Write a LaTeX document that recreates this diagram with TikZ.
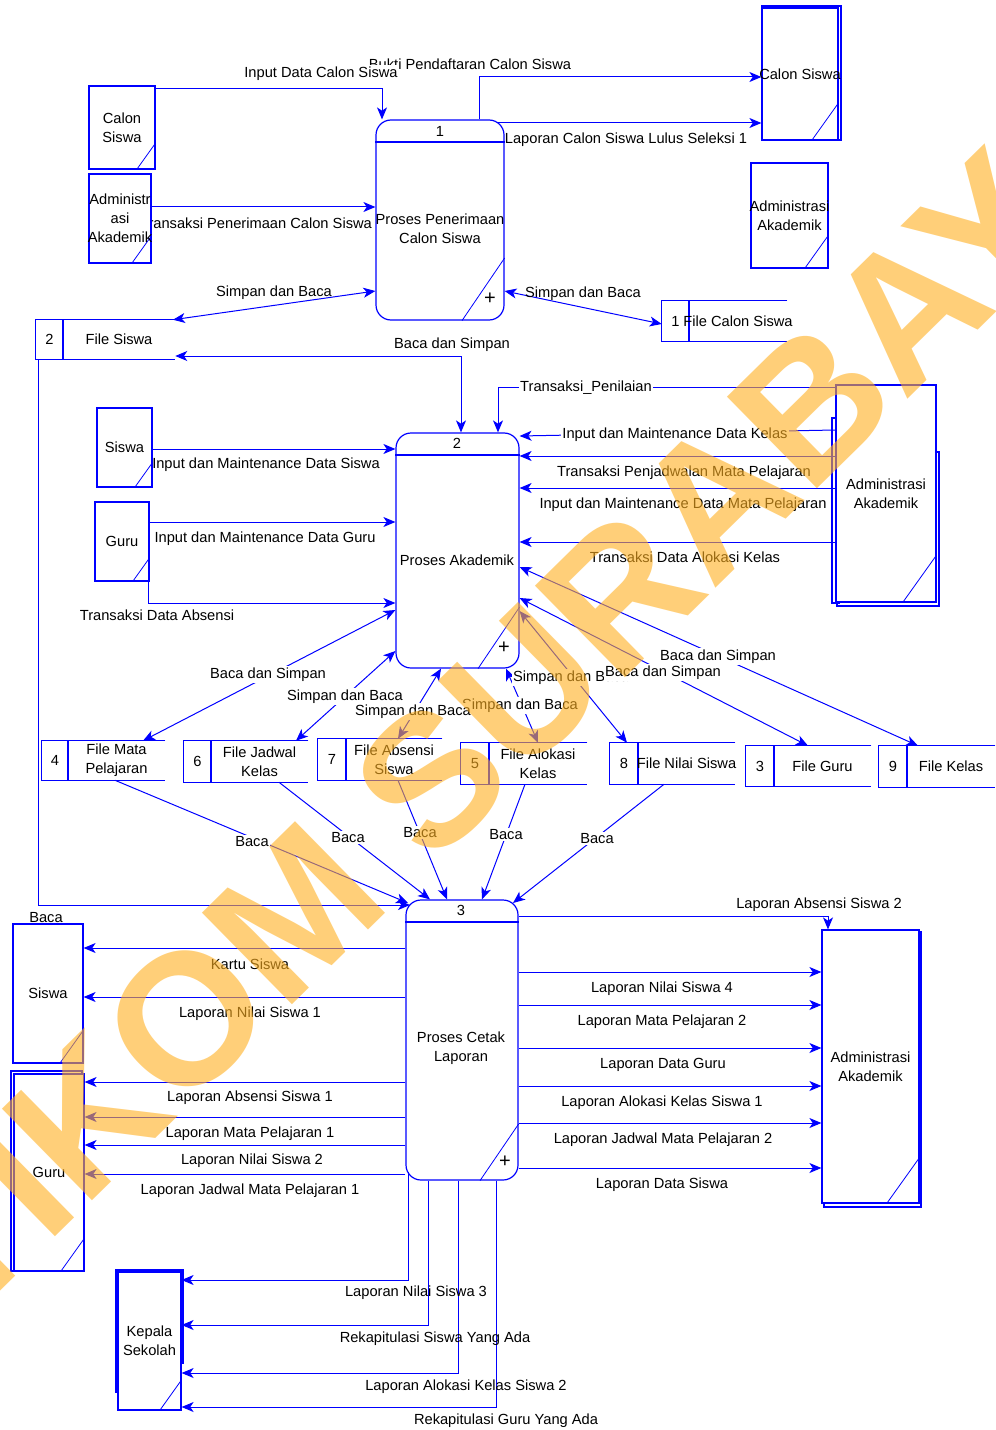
\documentclass[tikz,border=0pt]{standalone}
\usepackage{fontspec}
\setmainfont{Liberation Sans}
\usetikzlibrary{arrows.meta,fit,calc}
\definecolor{wm}{RGB}{255,176,32}
\tikzset{
  box/.style={draw=blue, line width=0.9pt},
  ent/.style={box, fill=white, inner sep=0pt},
  thinb/.style={draw=blue, line width=0.6pt},
  proc/.style={box, fill=white, rounded corners=11.25pt, inner sep=0pt},
  con/.style={draw=blue, line width=0.75pt},
  >={Stealth[length=9pt,width=7.5pt,inset=2.5pt]},
  lab/.style={inner sep=1pt, yshift=-1.2pt},
  labw/.style={inner sep=1pt, fill=white, yshift=-1.2pt},
  plus/.style={inner sep=0pt, font=\fontsize{15}{15}\selectfont},
}
\newcommand\entity[7]{%
  \node[ent, fit={(#2,#3) (#4,#5)}] (#1) {};
  \draw[thinb] (#1.south east) ++(-#6,0) -- ++(#6,-1.4*#6);
  \node[align=center, inner sep=0pt] (#1t) at (#1.center) {#7};
}
\newcommand\dstore[8]{%
  \node[fit={(#2,#3) (#4,#5)}, inner sep=0pt] (#1) {};
  \draw[box] (#1.north east) -- (#1.north west) -- (#1.south west) -- (#1.south east);
  \draw[box] (#6,#3) -- (#6,#5);
  \node[inner sep=0pt] (#1n) at ($(#2,#3)!.5!(#6,#5)$) {#7};
  \node[align=center, inner sep=0pt] (#1l) at ($(#6,#3)!.5!(#4,#5)$) {#8};
}
\begin{document}
\begin{tikzpicture}[x=0.75pt,y=-0.75pt,font=\fontsize{11}{14.25}\selectfont]
\useasboundingbox (0,0) rectangle (995,1430);
\fill[white] (0,0) rectangle (995,1430);

% labels partly hidden behind boxes
\node[lab] (lTP) at (256,222) {Transaksi Penerimaan Calon Siswa};
\node[lab] (lMP) at (683,503) {Input dan Maintenance Data Mata Pelajaran};

% ---------- processes ----------
\node[proc, minimum width=96pt, minimum height=150pt] (p1) at (440,220) {};
\draw[box] (p1.west |- 0,142) -- (p1.east |- 0,142);
\draw[thinb] (p1.south -| 462,0) -- (p1.east |- 0,258);
\node (p1n) at (440,131) {1};
\node[align=center] (p1t) at (440,229) {Proses Penerimaan\\Calon Siswa};
\node[plus] (p1x) at (490,299) {+};

\node[proc, minimum width=92.25pt, minimum height=176.25pt] (p2) at (457.5,550.5) {};
\draw[box] (p2.west |- 0,455) -- (p2.east |- 0,455);
\draw[thinb] (p2.south -| 478,0) -- (p2.east |- 0,607);
\node (p2n) at (457,443) {2};
\node (p2t) at (457,560) {Proses Akademik};
\node[plus] (p2x) at (504,648) {+};

\node[proc, minimum width=84pt, minimum height=210pt] (p3) at (462,1040) {};
\draw[box] (p3.west |- 0,922) -- (p3.east |- 0,922);
\draw[thinb] (p3.south -| 480,0) -- (p3.east |- 0,1124);
\node (p3n) at (461,910) {3};
\node[align=center] (p3t) at (461,1048) {Proses Cetak\\Laporan};
\node[plus] (p3x) at (505,1162) {+};

% ---------- external entities ----------
\entity{ecs1}{89}{86}{155}{169}{19}{Calon\\Siswa}
\entity{eadm1}{89}{174}{151}{263}{20}{Administr\\asi\\Akademik}
\draw[box] (762,8) -- (762,6) -- (841,6) -- (841,140) -- (838,140);
\entity{ecs2}{762}{8}{838}{140}{27}{Calon Siswa}
\entity{eadm2}{751}{163}{828}{268}{24}{Administrasi\\Akademik}
\entity{esis1}{97}{408}{152}{487}{18}{Siswa}
\entity{egur1}{95}{502}{149}{581}{17}{Guru}
\draw[box] (836,418) -- (832,418) -- (832,603) -- (840,603);
\draw[box] (936,452) -- (939,452) -- (939,606) -- (837,606) -- (837,603);
\entity{eadm3}{836}{385}{936}{602}{34}{Administrasi\\Akademik}
\entity{esis2}{13}{924}{83}{1063}{24}{Siswa}
\draw[box] (14,1271) -- (11,1271) -- (11,1071) -- (82,1071) -- (82,1074);
\entity{egur2}{14}{1074}{84}{1271}{24}{Guru}
\draw[box] (118,1392) -- (116,1392) -- (116,1270) -- (183,1270) -- (183,1363) -- (181,1363);
\entity{ekep}{118}{1272}{181}{1410}{22}{Kepala\\Sekolah}
\draw[box] (919,932) -- (921,932) -- (921,1207) -- (824,1207) -- (824,1203);
\entity{eadm4}{822}{930}{919}{1203}{33}{Administrasi\\Akademik}

% ---------- data stores ----------
\dstore{s1}{662}{301}{787}{341}{689}{1}{File Calon Siswa}
\dstore{s2}{36}{320}{175}{359}{63}{2}{File Siswa}
\dstore{s4}{42}{741}{165}{780}{68}{4}{File Mata\\Pelajaran}
\dstore{s6}{184}{741}{308}{782}{211}{6}{File Jadwal\\Kelas}
\dstore{s7}{318}{739}{442}{780}{346}{7}{File Absensi\\Siswa}
\dstore{s5}{461}{743}{587}{784}{489}{5}{File Alokasi\\Kelas}
\dstore{s8}{610}{743}{735}{784}{638}{8}{File Nilai Siswa}
\dstore{s3}{746}{746}{871}{786}{774}{3}{File Guru}
\dstore{s9}{879}{746}{995}{787}{907}{9}{File Kelas}

% ---------- helper coordinates on rounded corners ----------
\coordinate (p1tr) at (498,123);
\coordinate (p3tl) at (410,905);
\coordinate (p3tl2) at (408,903);
\coordinate (p3tr) at (513,903);
\coordinate (p3bl) at (408,1172);

% ---------- connectors: process 1 ----------
\draw[con,->] (ecs1.east |- 0,89) -| (p1.north -| 382,0);
\draw[con,->] (p1.north -| 479,0) |- (ecs2.west |- 0,77);
\draw[con,->] (p1tr) -- (ecs2.west |- 0,123);
\draw[con,->] (eadm1.east |- 0,207) -- (p1.west |- 0,207);
\draw[con,<->] (s2.north -| 173,0) -- (p1.west |- 0,291);
\draw[con,<->] (p1.east |- 0,291) -- (s1.west |- 0,324);
\draw[con,<->] (s2.east |- 0,356) -| (p2.north -| 461,0);

% ---------- connectors: process 2 ----------
\draw[con,->] (esis1.east |- 0,449) -- (p2.west |- 0,449);
\draw[con,->] (egur1.east |- 0,522) -- (p2.west |- 0,522);
\draw[con,->] (egur1.south -| 148,0) |- (p2.west |- 0,603);
\draw[con,->] (s2.south -| 38,0) |- (p3tl);
\draw[con,->] (eadm3.west |- 0,387) -| (p2.north -| 498,0);
\draw[con,->] (eadm3.west |- 0,430) -- (p2.east |- 0,436);
\draw[con,->] (eadm3.west |- 0,456) -- (p2.east |- 0,456);
\draw[con,->] (eadm3.west |- 0,488) -- (p2.east |- 0,488);
\draw[con,->] (eadm3.west |- 0,542) -- (p2.east |- 0,542);
\draw[con,<->] (p2.east |- 0,567) -- (s9.north -| 918,0);
\draw[con,<->] (p2.east |- 0,598) -- (s3.north -| 808,0);
\draw[con,<->] (p2.east |- 0,611) -- (s8.north -| 627,0);
\draw[con,<->] (p2.south -| 506,0) -- (s5.north -| 538,0);
\draw[con,<->] (p2.south -| 441,0) -- (s7.north -| 398,0);
\draw[con,<->] (p2.west |- 0,651) -- (s6.north -| 296,0);
\draw[con,<->] (p2.west |- 0,610) -- (s4.north -| 143,0);

% ---------- connectors: stores to process 3 ----------
\draw[con,->] (s4.south -| 115,0) -- (p3tl2);
\draw[con,->] (s6.south -| 279,0) -- (p3.north -| 430,0);
\draw[con,->] (s7.south -| 398,0) -- (p3.north -| 447,0);
\draw[con,->] (s5.south -| 525,0) -- (p3.north -| 482,0);
\draw[con,->] (s8.south -| 664,0) -- (p3tr);

% ---------- connectors: process 3 outputs ----------
\draw[con,->] (p3.east |- 0,916) -| (eadm4.north -| 828,0);
\foreach \yy in {972,1005,1048,1086,1123,1168}
  \draw[con,->] (p3.east |- 0,\yy) -- (eadm4.west |- 0,\yy);
\foreach \yy in {948,997}
  \draw[con,->] (p3.west |- 0,\yy) -- (esis2.east |- 0,\yy);
\foreach \yy in {1082,1117,1145,1174}
  \draw[con,->] (p3.west |- 0,\yy) -- (egur2.east |- 0,\yy);
\draw[con,->] (p3bl) |- (ekep.east |- 0,1280);
\draw[con,->] (p3.south -| 428,0) |- (ekep.east |- 0,1325);
\draw[con,->] (p3.south -| 458,0) |- (ekep.east |- 0,1373);
\draw[con,->] (p3.south -| 496,0) |- (ekep.east |- 0,1407);

% ---------- labels ----------
\node[lab] (l1) at (470,63) {Bukti Pendaftaran Calon Siswa};
\node[labw] (l2) at (321,72) {Input Data Calon Siswa};
\node[lab] (l3) at (626,138) {Laporan Calon Siswa Lulus Seleksi 1};
\node[lab] (l4) at (274,291) {Simpan dan Baca};
\node[lab] (l5) at (583,292) {Simpan dan Baca};
\node[lab] (l6) at (452,343) {Baca dan Simpan};

\node[labw] (l7) at (586,386) {Transaksi\_Penilaian};
\node[labw] (l8) at (675,433) {Input dan Maintenance Data Kelas};
\node[lab] (l9) at (266,463) {Input dan Maintenance Data Siswa};
\node[lab] (l10) at (684,471) {Transaksi Penjadwalan Mata Pelajaran};
\node[lab] (l11) at (265,537) {Input dan Maintenance Data Guru};
\node[lab] (l12) at (685,556) {Transaksi Data Alokasi Kelas};
\node[lab] (l13) at (157,614) {Transaksi Data Absensi};
\node[labw] (l14) at (718,655) {Baca dan Simpan};
\node[labw] (l15) at (571,676) {Simpan dan Baca};
\node[labw] (l16) at (663,671) {Baca dan Simpan};
\node[labw] (l17) at (268,673) {Baca dan Simpan};
\node[labw] (l18) at (345,695) {Simpan dan Baca};
\node[labw] (l19) at (520,704) {Simpan dan Baca};
\node[labw] (l20) at (413,710) {Simpan dan Baca};

\node[labw] (l21) at (252,840) {Baca};
\node[labw] (l22) at (348,836) {Baca};
\node[labw] (l23) at (420,831) {Baca};
\node[labw] (l24) at (506,833) {Baca};
\node[labw] (l25) at (597,837) {Baca};
\node[lab] (l26) at (46,916) {Baca};

\node[lab] (l27) at (819,903) {Laporan Absensi Siswa 2};
\node[lab] (l28) at (250,963) {Kartu Siswa};
\node[lab] (l29) at (250,1012) {Laporan Nilai Siswa 1};
\node[lab] (l30) at (250,1096) {Laporan Absensi Siswa 1};
\node[lab] (l31) at (250,1132) {Laporan Mata Pelajaran 1};
\node[lab] (l32) at (252,1159) {Laporan Nilai Siswa 2};
\node[lab] (l33) at (250,1189) {Laporan Jadwal Mata Pelajaran 1};
\node[lab] (l34) at (662,987) {Laporan Nilai Siswa 4};
\node[lab] (l35) at (662,1020) {Laporan Mata Pelajaran 2};
\node[lab] (l36) at (663,1063) {Laporan Data Guru};
\node[lab] (l37) at (662,1101) {Laporan Alokasi Kelas Siswa 1};
\node[lab] (l38) at (663,1138) {Laporan Jadwal Mata Pelajaran 2};
\node[lab] (l39) at (662,1183) {Laporan Data Siswa};
\node[lab] (l40) at (416,1291) {Laporan Nilai Siswa 3};
\node[lab] (l41) at (435,1337) {Rekapitulasi Siswa Yang Ada};
\node[lab] (l42) at (466,1385) {Laporan Alokasi Kelas Siswa 2};
\node[lab] (l43) at (506,1419) {Rekapitulasi Guru Yang Ada};

% ---------- watermark ----------
\node[rotate=44.5, text=wm, opacity=0.6, inner sep=0pt,
      font=\fontsize{140}{140}\selectfont\bfseries] (wmk) at (474,736) {STIKOM SURABAYA};
\end{tikzpicture}
\end{document}
